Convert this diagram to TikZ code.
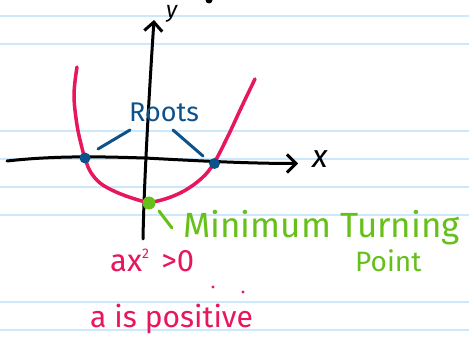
\documentclass[tikz,border=0pt]{standalone}
\usepackage{fontspec}
\setmainfont{Fira Sans}
\usetikzlibrary{arrows.meta}
\definecolor{pinkc}{RGB}{232,22,92}
\definecolor{bluec}{RGB}{14,82,140}
\definecolor{greenc}{RGB}{102,192,26}
\definecolor{rulec}{RGB}{205,232,250}
\begin{document}
\begin{tikzpicture}[x=1pt,y=-1pt,
  rule/.style={rulec,line width=1.4pt},
  axis/.style={black,line width=3pt,line cap=round,line join=round,
    -{Straight Barb[length=9pt,width=18pt,line width=3pt]}},
  curve/.style={pinkc,line width=3.5pt,line cap=round,line join=round},
  pointer/.style={line width=3pt,line cap=round},
  dotnode/.style={circle,inner sep=0pt,minimum size=#1},
  txt/.style={inner sep=0pt,anchor=base west}]
\fill[white] (0,0) rectangle (469,342);
\useasboundingbox (0,0) rectangle (469,342);
\foreach \yy in {16,44,131,159,187,215,302,330}
  \draw[rule] (0,\yy) -- (469,\yy);
% axes
\coordinate (xs) at (7,161);
\coordinate (xe) at (298,163.5);
\coordinate (ys) at (143,239);
\coordinate (ye) at (154,20);
\draw[axis] (xs) .. controls (60,155) and (110,157) .. (145,158) .. controls (200,161) and (250,163.5) .. (xe);
\draw[axis] (ys) .. controls (144,180) and (150,80) .. (ye);
\node[txt,font=\fontsize{32}{32}\selectfont\itshape] (xl) at (312,168) {x};
\node[txt,font=\fontsize{23}{23}\selectfont\itshape] (yl) at (166,18) {y};
\fill[black] (209,0) circle (3.5);
% parabola
\draw[curve] plot[smooth,tension=0.6] coordinates {(77,67) (74,95) (77,125) (82,148) (85,158) (90,171) (100,183) (116,192) (135,199) (149,202) (165,199) (184,191) (202,178) (214,163) (228,136) (242,106) (255,79)};
% roots
\node[dotnode=11pt,fill=bluec] (r1) at (85,158) {};
\node[dotnode=11pt,fill=bluec] (r2) at (214.5,163.5) {};
\node[txt,bluec,font=\fontsize{27}{27}\selectfont] (roots) at (129,122) {Roots};
\coordinate (rl) at (130,130);
\coordinate (rr) at (173,130);
\coordinate (rl2) at (98,149);
\coordinate (rr2) at (203,156);
\draw[pointer,bluec] (rl) -- (rl2);
\draw[pointer,bluec] (rr) -- (rr2);
% minimum
\node[dotnode=13pt,fill=greenc] (m) at (149,203) {};
\coordinate (g1) at (159,211);
\coordinate (g2) at (172,228);
\draw[pointer,greenc] (g1) -- (g2);
\node[txt,greenc,font=\fontsize{35}{35}\selectfont] (mt) at (183,237) {Minimum Turning};
\node[txt,greenc,font=\fontsize{28}{28}\selectfont] (pt) at (355,271) {Point};
% pink texts
\node[txt,pinkc,font=\fontsize{31}{31}\selectfont] (ax) at (110,272) {ax\raisebox{0.42em}{\fontsize{14}{14}\selectfont 2}\hspace{0.4em}\textgreater0};
\fill[pinkc] (213,287) circle (1.6);
\fill[pinkc] (243,292) circle (1.6);
\node[txt,pinkc,font=\fontsize{30}{30}\selectfont] (pos) at (90,327) {a is positive};
\end{tikzpicture}
\end{document}
